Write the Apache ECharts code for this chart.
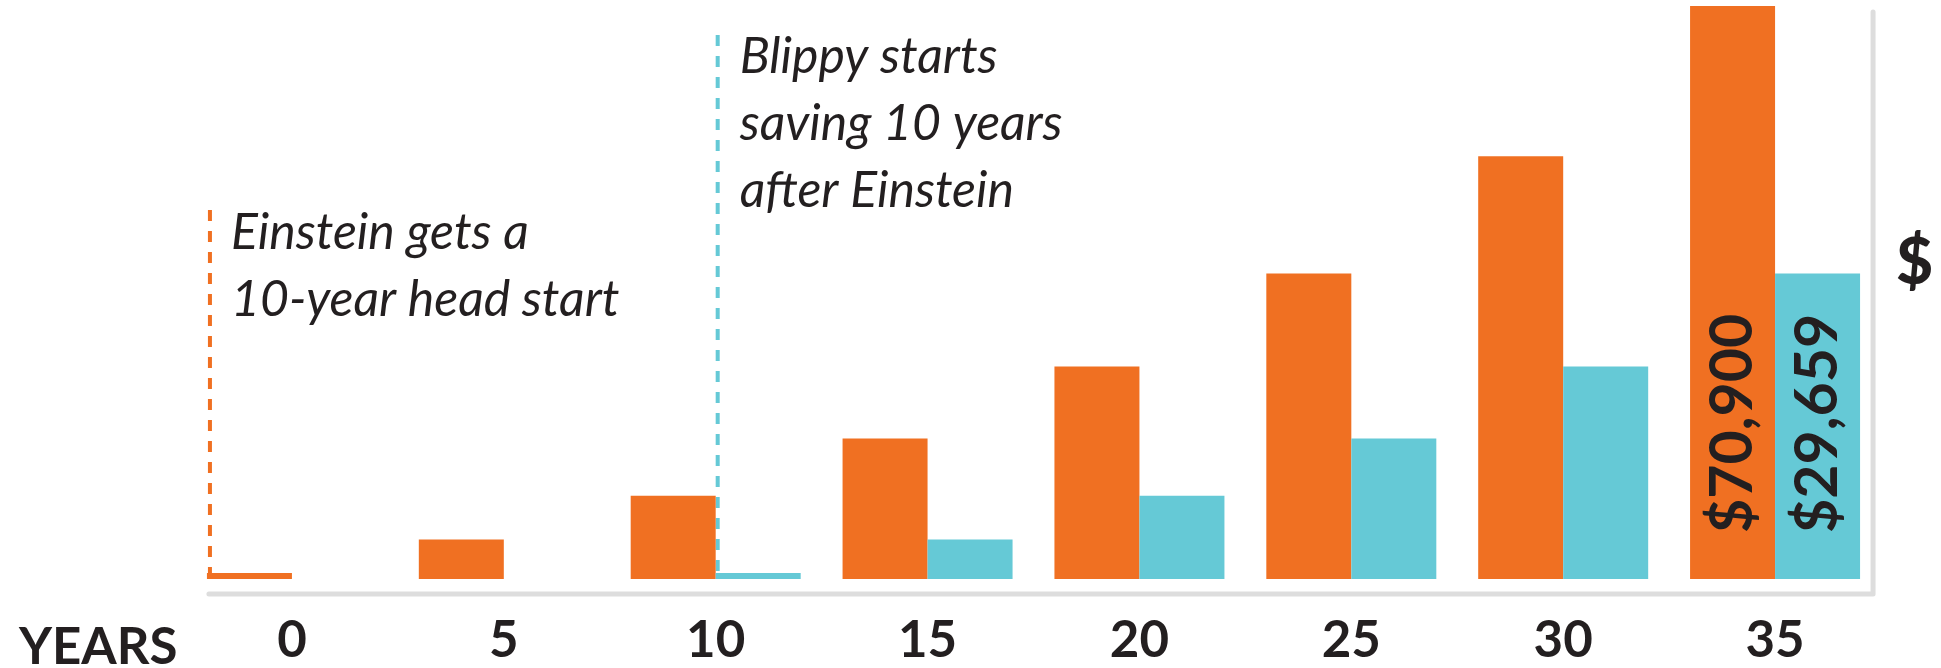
<!DOCTYPE html>
<html>
<head>
    <meta charset="utf-8">
    <title>Einstein vs Blippy</title>
    <script src="https://cdn.jsdelivr.net/npm/echarts@6/dist/echarts.min.js"></script>
    <style>
        html, body { margin: 0; padding: 0; background: #fff; }
        #main { width: 1941px; height: 668px; }
    </style>
</head>
<body>
<div id="main"></div>
<script>
    // 数据
    var years = ['0', '5', '10', '15', '20', '25', '30', '35'];
    var einstein = [750, 4900, 10300, 17400, 26300, 37800, 52300, 70900];
    var blippy = [0, 0, 750, 4900, 10300, 17400, 26300, 37800];
    var einsteinLabels = ['', '', '', '', '', '', '', '$70,900'];
    var blippyLabels = ['', '', '', '', '', '', '', '$29,659'];

    var orange = '#f07022';
    var cyan = '#65c9d6';
    var ink = '#231f20';
    var barW = 85;

    var myChart = echarts.init(document.getElementById('main'));

    var valueLabel = function (texts) {
        return {
            show: true,
            position: 'insideBottom',
            distance: 46,
            rotate: 90,
            align: 'left',
            verticalAlign: 'middle',
            color: ink,
            fontFamily: 'Lato',
            fontWeight: 'bold',
            fontSize: 59,
            formatter: function (p) { return texts[p.dataIndex]; }
        };
    };

    var option = {
        animation: false,
        title: [
            { text: 'YEARS', left: 14, top: 617,
              textStyle: { fontFamily: 'Lato', fontWeight: 'bold', fontSize: 51, color: ink } },
            { text: '$', left: 1891, top: 226,
              textStyle: { fontFamily: 'Lato', fontWeight: 900, fontSize: 64, color: ink } }
        ],
        grid: { left: 186, right: 60, top: 6, bottom: 86, containLabel: false },
        xAxis: {
            type: 'category',
            data: years,
            axisLine: { show: false },
            axisTick: { show: false },
            axisLabel: {
                margin: 35,
                fontFamily: 'Lato',
                fontWeight: 'bold',
                fontSize: 51,
                lineHeight: 54,
                color: ink
            }
        },
        yAxis: {
            type: 'value',
            min: 0,
            max: 70900,
            show: false
        },
        series: [
            {
                name: 'Einstein',
                type: 'bar',
                data: einstein,
                barWidth: barW,
                barGap: '0%',
                itemStyle: { color: orange },
                label: valueLabel(einsteinLabels)
            },
            {
                name: 'Blippy',
                type: 'bar',
                data: blippy,
                barWidth: barW,
                barGap: '0%',
                itemStyle: { color: cyan },
                label: valueLabel(blippyLabels)
            }
        ]
    };
    myChart.setOption(option);

    // 注释线和文字，用坐标轴换算位置
    var p0 = myChart.convertToPixel({ gridIndex: 0 }, ['0', 0]);
    var p10 = myChart.convertToPixel({ gridIndex: 0 }, ['10', 0]);
    var p35 = myChart.convertToPixel({ gridIndex: 0 }, ['35', 0]);
    var base = p0[1];
    var leftX = p0[0] - barW;
    var rightX = p35[0] + barW + 13;
    var noteFont = 'italic 400 50px Lato';

    myChart.setOption({
        graphic: [
            { type: 'polyline', silent: true,
              shape: { points: [[leftX + 2, base + 15], [rightX, base + 15], [rightX, 12]] },
              style: { stroke: '#dddddd', lineWidth: 5, fill: null, lineCap: 'round', lineJoin: 'round' } },
            { type: 'line', silent: true,
              shape: { x1: leftX + 3, y1: 210, x2: leftX + 3, y2: base },
              style: { stroke: orange, lineWidth: 4, lineDash: [11, 10] } },
            { type: 'line', silent: true,
              shape: { x1: p10[0] + 2, y1: 35, x2: p10[0] + 2, y2: base },
              style: { stroke: cyan, lineWidth: 4, lineDash: [11, 10] } },
            { type: 'text', silent: true, left: leftX + 24, top: 199,
              style: { text: 'Einstein gets a\n10-year head start', font: noteFont, lineHeight: 67, fill: ink } },
            { type: 'text', silent: true, left: p10[0] + 24, top: 23,
              style: { text: 'Blippy starts\nsaving 10 years\nafter Einstein', font: noteFont, lineHeight: 67, fill: ink } }
        ]
    });
</script>
</body>
</html>
